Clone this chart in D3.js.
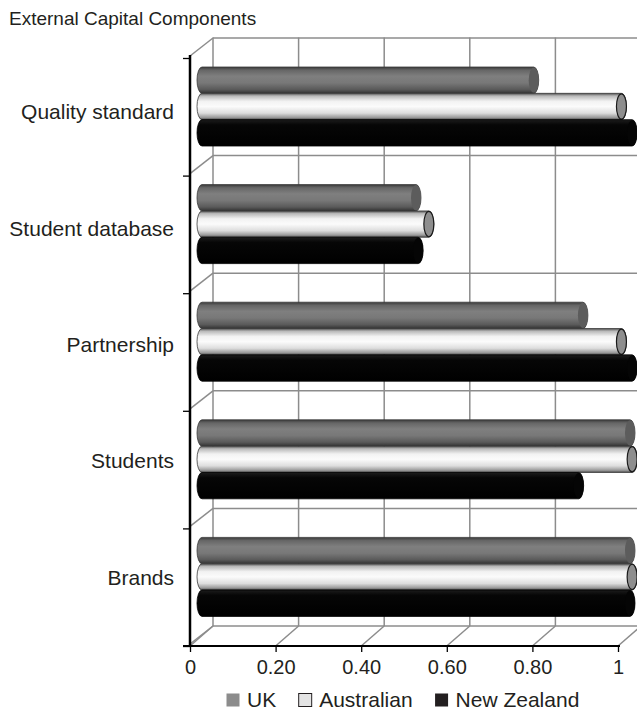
<!DOCTYPE html>
<html>
<head>
<meta charset="utf-8">
<script src="https://cdn.jsdelivr.net/npm/d3@7"></script>
<style>
  html, body { margin: 0; padding: 0; background: #fff; }
  svg { display: block; font-family: "Liberation Sans", Arial, Helvetica, sans-serif; }
</style>
</head>
<body>
<svg id="chart" width="637" height="715"></svg>
<script>
// ---- data ----
const title = "External Capital Components";
const categories = ["Quality standard", "Student database", "Partnership", "Students", "Brands"];
const series = ["UK", "Australian", "New Zealand"];
const ukValues = [0.775, 0.50, 0.89, 1.0, 1.0];
const australianValues = [0.98, 0.53, 0.98, 1.005, 1.005];
const newZealandValues = [1.005, 0.505, 1.005, 0.88, 1.0];
const tickValues = [0, 0.2, 0.4, 0.6, 0.8, 1];
const tickLabels = ["0", "0.20", "0.40", "0.60", "0.80", "1"];

const seriesValues = [ukValues, australianValues, newZealandValues];

// ---- layout ----
const W = 637, H = 715;
const svg = d3.select("#chart");
const textColor = "#231f20";
const gridColor = "#8c8c8c";

const x = d3.scaleLinear().domain([0, 1]).range([190, 618]);
const plotTop = 58, plotBottom = 646;
const y = d3.scaleBand().domain(categories).range([plotTop, plotBottom]);
const boundary = d3.scaleLinear().domain([0, categories.length]).range([plotTop, plotBottom]);
const depth = { dx: 23, dy: -20 };
const barDepth = 12;

// ---- gradients ----
const defs = svg.append("defs");
const gradStops = {
  "UK": [[0, "#3a3a3a"], [0.12, "#666"], [0.35, "#7f7f7f"], [0.6, "#787878"], [0.85, "#5a5a5a"], [1, "#333"]],
  "Australian": [[0, "#505050"], [0.1, "#b8b8b8"], [0.3, "#f2f2f2"], [0.5, "#fbfbfb"], [0.75, "#dddddd"], [0.92, "#999"], [1, "#4a4a4a"]],
  "New Zealand": [[0, "#1c1c1c"], [0.2, "#060606"], [1, "#000"]]
};
series.forEach((s, i) => {
  const g = defs.append("linearGradient").attr("id", "grad" + i)
    .attr("x1", 0).attr("y1", 0).attr("x2", 0).attr("y2", 1);
  gradStops[s].forEach(st => g.append("stop").attr("offset", st[0]).attr("stop-color", st[1]));
});
const capFill = { "UK": "#5c5c5c", "Australian": "#8e8e8e", "New Zealand": "#050505" };
const capStroke = { "UK": "none", "Australian": "#1a1a1a", "New Zealand": "none" };
const bodyStroke = { "UK": "#3a3a3a", "Australian": "#3a3a3a", "New Zealand": "#000" };

// ---- walls / grid ----
const grid = svg.append("g").attr("stroke", gridColor).attr("stroke-width", 1.5).attr("fill", "none");
// back wall verticals
tickValues.forEach(t => {
  grid.append("line")
    .attr("x1", x(t) + depth.dx).attr("x2", x(t) + depth.dx)
    .attr("y1", plotTop + depth.dy - 0.5).attr("y2", plotBottom + depth.dy);
});
// back wall horizontals + left wall diagonals
d3.range(categories.length + 1).forEach(k => {
  const yb = boundary(k);
  grid.append("line")
    .attr("x1", x(0) + depth.dx).attr("x2", W)
    .attr("y1", yb + depth.dy).attr("y2", yb + depth.dy);
  grid.append("line")
    .attr("x1", x(0)).attr("x2", x(0) + depth.dx)
    .attr("y1", yb - 2).attr("y2", yb + depth.dy);
});
// floor diagonals
tickValues.forEach(t => {
  grid.append("line")
    .attr("x1", x(t)).attr("x2", x(t) + depth.dx)
    .attr("y1", plotBottom).attr("y2", plotBottom + depth.dy);
});

// ---- bars (cylinders) ----
const groupH = 79;
const sub = d3.scaleBand().domain(series).range([0, groupH]);
const bars = svg.append("g");
categories.forEach((c, ci) => {
  const gTop = y(c) + 9;
  series.forEach((s, si) => {
    const v = seriesValues[si][ci];
    const yt = gTop + sub(s);
    const h = sub.bandwidth();
    const xa = x(0) + barDepth;
    const xb = x(v) + barDepth;
    const rx = 5, ry = h / 2;
    const p = d3.path();
    p.moveTo(xa, yt);
    p.lineTo(xb, yt);
    const body = `M${xa},${yt} L${xb},${yt} A${rx},${ry} 0 0 1 ${xb},${yt + h} L${xa},${yt + h} A${rx},${ry} 0 0 1 ${xa},${yt} Z`;
    bars.append("path")
      .attr("d", body)
      .attr("fill", `url(#grad${si})`)
      .attr("stroke", bodyStroke[s])
      .attr("stroke-width", 0.8);
    bars.append("ellipse")
      .attr("cx", xb).attr("cy", yt + h / 2)
      .attr("rx", rx).attr("ry", ry - 0.5)
      .attr("fill", capFill[s])
      .attr("stroke", capStroke[s])
      .attr("stroke-width", 1.2);
  });
});

// ---- axes ----
const leftAxis = d3.axisLeft(boundary)
  .tickValues(d3.range(categories.length + 1))
  .tickSize(7).tickFormat("");
const gl = svg.append("g").attr("transform", `translate(${x(0)},0)`).call(leftAxis);
gl.select(".domain").remove();
gl.selectAll(".tick line").attr("stroke", "#000").attr("stroke-width", 1.3);
svg.append("line")
  .attr("x1", x(0)).attr("x2", x(0))
  .attr("y1", plotTop - 3).attr("y2", plotBottom + 1)
  .attr("stroke", "#000").attr("stroke-width", 2.5);

const bottomAxis = d3.axisBottom(x)
  .tickValues(tickValues)
  .tickSize(6)
  .tickPadding(8)
  .tickFormat((d, i) => tickLabels[i]);
const gb = svg.append("g").attr("transform", `translate(0,${plotBottom})`).call(bottomAxis);
gb.select(".domain").remove();
gb.selectAll(".tick line").attr("stroke", "#000").attr("stroke-width", 1.3);
gb.selectAll(".tick text")
  .attr("fill", textColor)
  .style("font-size", "20px")
  .style("font-family", "'Liberation Sans', Arial, sans-serif");
svg.append("line")
  .attr("x1", x(0) - 7).attr("x2", x(1) + 2)
  .attr("y1", plotBottom).attr("y2", plotBottom)
  .attr("stroke", "#000").attr("stroke-width", 2.2);

// ---- category labels ----
const labelY = d3.scaleBand().domain(categories).range([54, 636]);
svg.append("g").selectAll("text")
  .data(categories).join("text")
  .attr("x", 174)
  .attr("y", d => labelY(d) + labelY.bandwidth() / 2 + 7)
  .attr("text-anchor", "end")
  .attr("fill", textColor)
  .style("font-size", "21px")
  .text(d => d);

// ---- title ----
svg.append("text")
  .attr("x", 9).attr("y", 25)
  .attr("fill", textColor)
  .style("font-size", "19px")
  .text(title);

// ---- legend ----
const legendFill = { "UK": "#8c8c8c", "Australian": "#e4e4e4", "New Zealand": "#231f20" };
const legendStroke = { "UK": "none", "Australian": "#231f20", "New Zealand": "none" };
const legend = svg.append("g");
let lx = 226;
const ly = 707;
series.forEach(s => {
  legend.append("rect")
    .attr("x", lx + 0.5).attr("y", ly - 13.5)
    .attr("width", 13).attr("height", 13)
    .attr("fill", legendFill[s])
    .attr("stroke", legendStroke[s]).attr("stroke-width", 1);
  const t = legend.append("text")
    .attr("x", lx + 21).attr("y", ly)
    .attr("fill", textColor)
    .style("font-size", "21px")
    .text(s);
  lx = lx + 21 + t.node().getComputedTextLength() + 22;
});
</script>
</body>
</html>
